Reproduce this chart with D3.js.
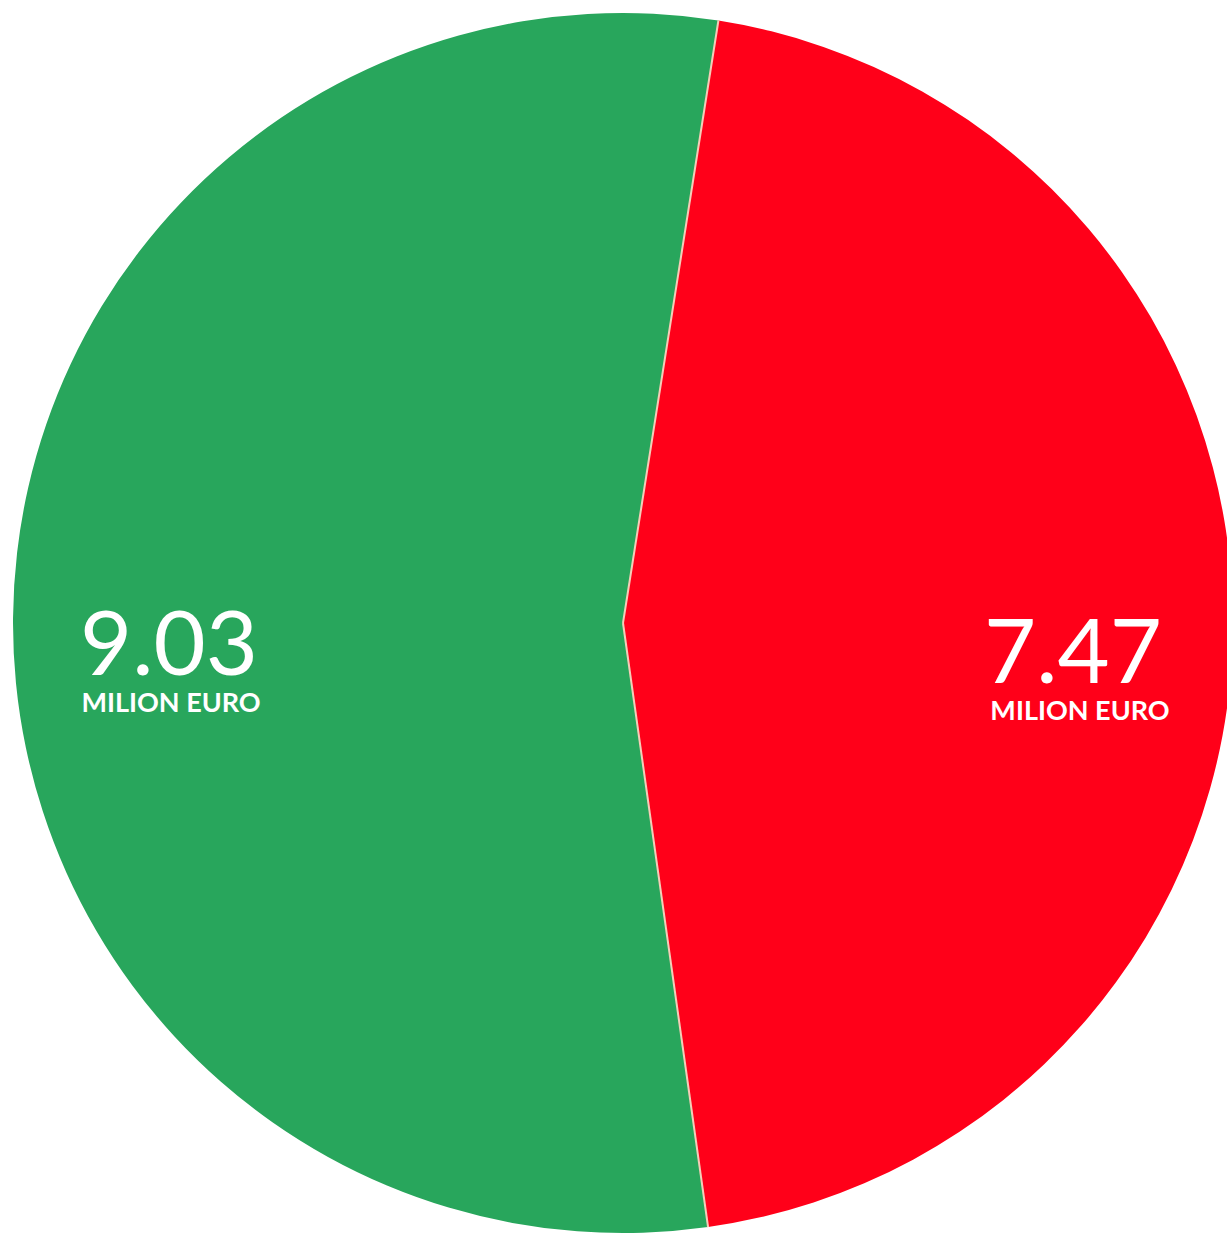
<!DOCTYPE html>
<html>
<head>
<meta charset="utf-8">
<script src="https://cdn.jsdelivr.net/npm/d3@7"></script>
<style>
  html, body { margin: 0; padding: 0; background: #ffffff; }
  svg { display: block; }
</style>
</head>
<body>
<svg id="chart" width="1227" height="1234"></svg>
<script>
const categories = ["Red", "Green"];
const values = [7.47, 9.03];
const valueLabels = ["7.47", "9.03"];
const unitLabel = "MILION EURO";
const colors = ["#FF0019", "#28A65C"];

const W = 1227, H = 1234;
const cx = 623, cy = 623, R = 610;
const svg = d3.select("#chart");
const g = svg.append("g").attr("transform", `translate(${cx},${cy})`);

const start = 9 * Math.PI / 180;
const pie = d3.pie().sort(null).value(d => d.v)
  .startAngle(start).endAngle(start + 2 * Math.PI);
const data = categories.map((c, i) => ({ c, v: values[i], label: valueLabels[i], color: colors[i] }));
const arcs = pie(data);

const arc = d3.arc().innerRadius(0).outerRadius(R);
const labelArc = d3.arc().innerRadius(452).outerRadius(452);

g.selectAll("path.slice").data(arcs).join("path")
  .attr("class", "slice")
  .attr("d", arc)
  .attr("fill", d => d.data.color);

// separator lines between slices
g.selectAll("line.sep").data(arcs).join("line")
  .attr("class", "sep")
  .attr("x1", 0).attr("y1", 0)
  .attr("x2", d => d3.pointRadial(d.startAngle, R)[0])
  .attr("y2", d => d3.pointRadial(d.startAngle, R)[1])
  .attr("stroke", "#f4cdb8")
  .attr("stroke-width", 2);

const lg = g.selectAll("g.lbl").data(arcs).join("g")
  .attr("class", "lbl")
  .attr("transform", d => { const [x, y] = labelArc.centroid(d); return `translate(${x},${y})`; });

lg.append("text")
  .attr("text-anchor", "middle")
  .attr("x", -2)
  .attr("y", 56)
  .attr("fill", "#ffffff")
  .style("font-family", "Lato, 'Open Sans', sans-serif")
  .style("font-weight", 400)
  .style("font-size", "90px")
  .text(d => d.data.label);

lg.append("text")
  .attr("text-anchor", "middle")
  .attr("x", (d, i) => i === 0 ? 5 : 0)
  .attr("y", 93)
  .attr("fill", "#ffffff")
  .style("font-family", "Lato, 'Open Sans', sans-serif")
  .style("font-weight", 700)
  .style("font-size", "27px")
  .text(unitLabel);
</script>
</body>
</html>
